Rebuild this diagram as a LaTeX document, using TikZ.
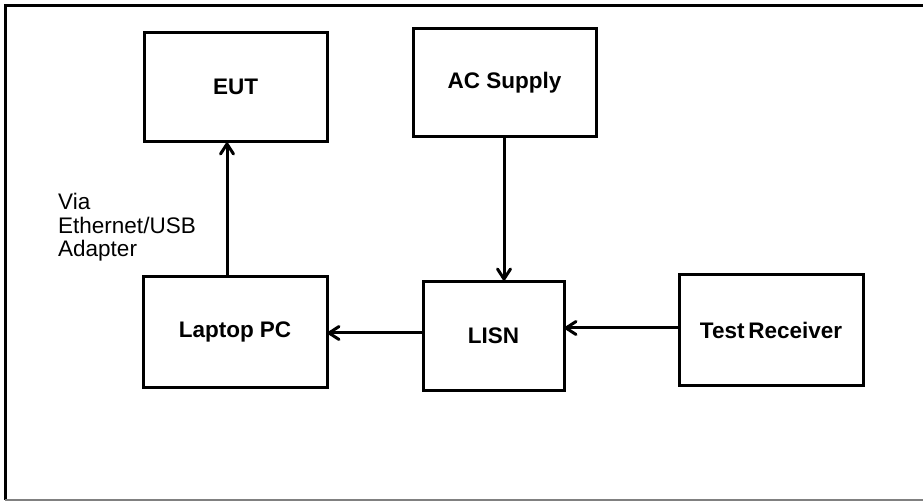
\documentclass[tikz,border=0pt]{standalone}
\usepackage{fontspec}
\setmainfont{Liberation Sans}
\usetikzlibrary{calc}
\begin{document}
\begin{tikzpicture}[x=1pt,y=-1pt,
  blk/.style={draw=black,line width=3pt,inner sep=0pt,
    font=\fontsize{22.5}{25}\selectfont\bfseries},
  shaft/.style={draw=black,line width=3pt},
  head/.style={draw=black,line width=3pt,line join=round,line cap=round}]
\useasboundingbox (0,0) rectangle (923,502);
\fill[white] (0,0) rectangle (923,502);
% outer frame
\draw[black,line width=3pt] (930,6) -- (5,6) -- (5,500);
\draw[gray,line width=2pt] (5,500) -- (930,500);
% blocks
\node[blk,minimum width=183pt,minimum height=109pt] (eut) at (235.5,87) {EUT};
\node[blk,minimum width=183pt,minimum height=108pt] (ac) at (504.5,83) {AC Supply};
\node[blk,minimum width=184pt,minimum height=110pt] (pc) at (235,332) {Laptop PC};
\node[blk,minimum width=141pt,minimum height=108pt] (lisn) at (493.5,336) {LISN};
\node[blk,minimum width=184pt,minimum height=110pt] (rx) at (771,330) {Test\,Receiver};
% label
\node[anchor=north west,align=left,inner sep=0pt,
  font=\fontsize{22.5}{23.5}\selectfont] (via) at (58,193) {Via\\Ethernet/USB\\Adapter};
% connector end points
\coordinate (pcT) at (227,277);
\coordinate (eutB) at (227,144);
\coordinate (acB) at (504,137);
\coordinate (lisnT) at (504,279);
\coordinate (lisnW) at (423,333);
\coordinate (pcE) at (329,333);
\coordinate (rxW) at (679,328);
\coordinate (lisnE) at (566,328);
% connector shafts
\draw[shaft] (pcT) -- (eutB);
\draw[shaft] (acB) -- (lisnT);
\draw[shaft] (lisnW) -- (pcE);
\draw[shaft] (rxW) -- (lisnE);
% arrowheads
\draw[head] ($(eutB)+(-6.5,10)$) -- (eutB) -- ($(eutB)+(6.5,10)$);
\draw[head] ($(lisnT)+(-6.5,-10)$) -- (lisnT) -- ($(lisnT)+(6.5,-10)$);
\draw[head] ($(pcE)+(10,-6.5)$) -- (pcE) -- ($(pcE)+(10,6.5)$);
\draw[head] ($(lisnE)+(10,-6.5)$) -- (lisnE) -- ($(lisnE)+(10,6.5)$);
\end{tikzpicture}
\end{document}
